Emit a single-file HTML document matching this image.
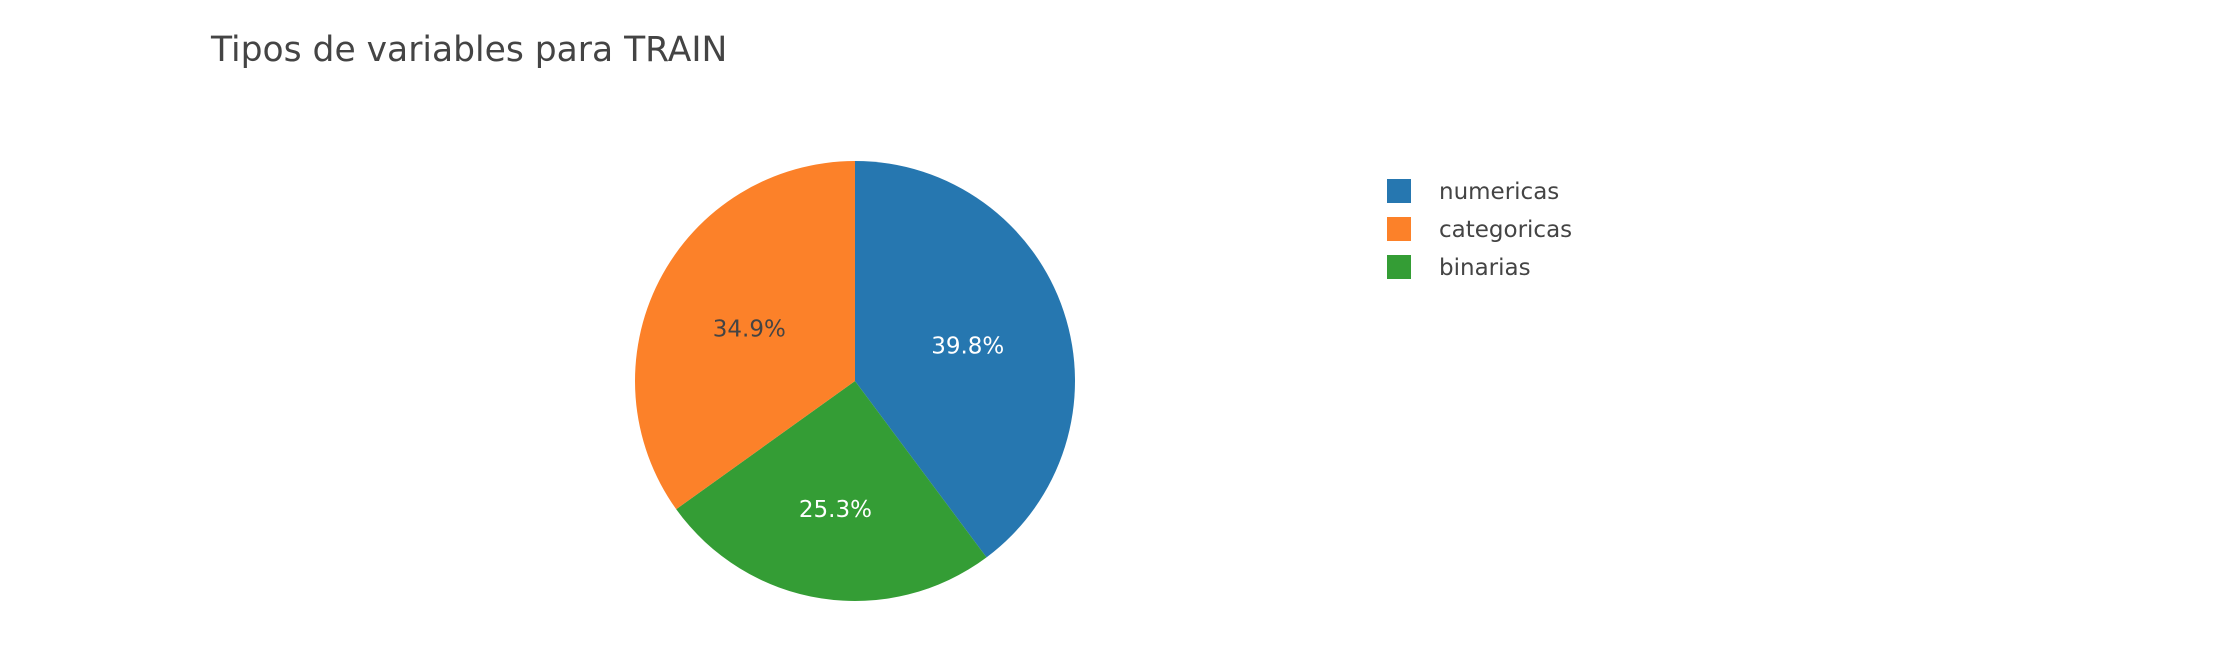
<!DOCTYPE html>
<html><head><meta charset="utf-8"><style>
body{margin:0;background:#fff;width:2224px;height:660px;overflow:hidden;font-family:"DejaVu Sans","Liberation Sans",sans-serif}
</style></head><body>
<svg width="2224" height="660" font-family="DejaVu Sans, Liberation Sans, sans-serif">
<text x="211" y="61" font-size="34.5" fill="#444">Tipos de variables para TRAIN</text>
<g id="pie"></g>
<g id="legend"></g>
</svg>
<script>
const labels=["numericas","binarias","categoricas"];
const values=[39.8,25.3,34.9];
const colors=["#2677b0","#349d35","#fc8129"];
const textColors=["#fff","#fff","#444"];
const legendOrder=["numericas","categoricas","binarias"];
const NS="http://www.w3.org/2000/svg";
const cx=855,cy=381,R=220;
const pie=document.getElementById('pie');
const total=values.reduce((a,b)=>a+b,0);
let a0=0;
function pt(a,r){return [cx+r*Math.sin(a),cy-r*Math.cos(a)];}
values.forEach((v,i)=>{
  const a1=a0+v/total*2*Math.PI;
  const p0=pt(a0,R),p1=pt(a1,R);
  const large=(a1-a0)>Math.PI?1:0;
  const path=document.createElementNS(NS,'path');
  path.setAttribute('d',`M${cx},${cy}L${p0[0]},${p0[1]}A${R},${R} 0 ${large} 1 ${p1[0]},${p1[1]}Z`);
  path.setAttribute('fill',colors[i]);
  
  
  pie.appendChild(path);
  const m=(a0+a1)/2;
  const f=(v/total<0.3)?0.58:0.54;
  const lp=pt(m,R*f);
  const t=document.createElementNS(NS,'text');
  t.setAttribute('x',lp[0]);t.setAttribute('y',lp[1]+10);
  t.setAttribute('text-anchor','middle');t.setAttribute('font-size','23');
  t.setAttribute('fill',textColors[i]);
  t.textContent=v.toFixed(1)+'%';
  
  
  pie.appendChild(t);
  a0=a1;
});
const lg=document.getElementById('legend');
legendOrder.forEach((l,k)=>{
  const i=labels.indexOf(l);
  const y=179+k*38;
  const r=document.createElementNS(NS,'rect');
  r.setAttribute('x',1387);r.setAttribute('y',y);r.setAttribute('width',24);r.setAttribute('height',24);
  r.setAttribute('fill',colors[i]);
  
  
  lg.appendChild(r);
  const t=document.createElementNS(NS,'text');
  t.setAttribute('x',1439);t.setAttribute('y',y+20);t.setAttribute('font-size','23');t.setAttribute('fill','#444');
  t.textContent=l;
  
  
  lg.appendChild(t);
});
</script>
</body></html>
